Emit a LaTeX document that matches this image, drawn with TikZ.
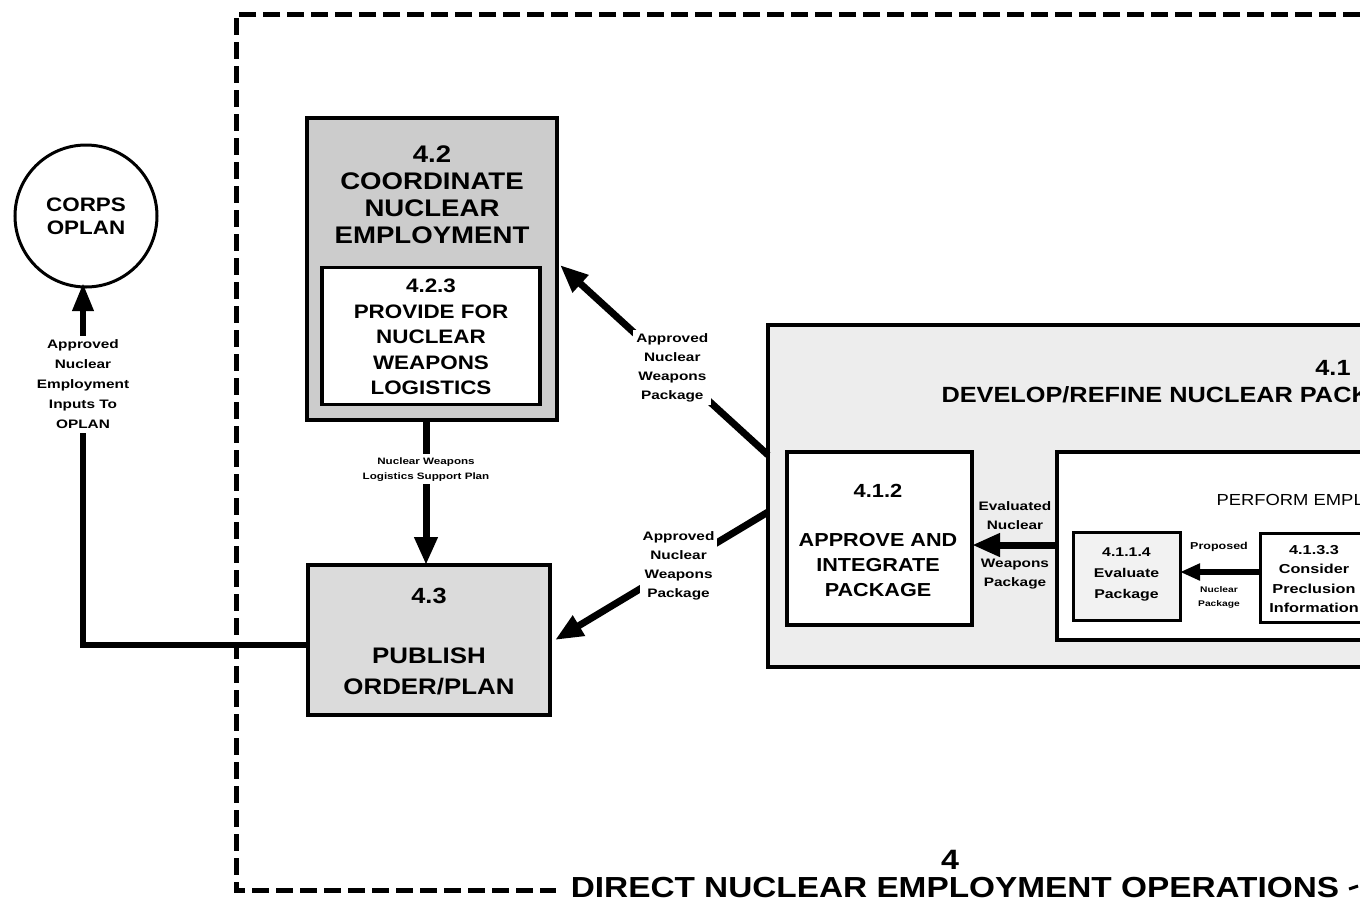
\documentclass[tikz,border=0pt]{standalone}
\usepackage{fontspec}
\setmainfont{Liberation Sans}
\newfontfamily\wf[FakeStretch=1.15]{Liberation Sans}
\newfontfamily\wl[FakeStretch=1.25]{Liberation Sans}
\usetikzlibrary{arrows.meta}
\begin{document}
\begin{tikzpicture}[x=1pt,y=-1pt,
  boxa/.style={draw, line width=3.5pt, rectangle, inner sep=0pt},
  flow/.style={line width=6.5pt},
  arr/.style={line width=7pt, -{Triangle[length=28pt,width=22pt]}},
  sarr/.style={line width=6pt, -{Triangle[length=20pt,width=16pt]}},
  lbl/.style={font=\wl\bfseries\fontsize{12.3}{19}\selectfont, align=center, inner sep=1pt},
  slbl/.style={font=\wl\bfseries\fontsize{9.3}{15}\selectfont, align=center, inner sep=1pt},
  big/.style={font=\wf\bfseries, align=center},
  frame/.style={line width=5pt, dash pattern=on 17pt off 7pt}
]
\useasboundingbox (0,0) rectangle (1360,919);
\fill[white] (0,0) rectangle (1360,919);

% outer dashed frame
\coordinate (fr1) at (1360,14);
\coordinate (fr2) at (236,14);
\coordinate (fr3) at (236,890);
\coordinate (fr4) at (556,890);
\draw[frame] (fr1) -- (fr2) -- (fr3) -- (fr4);
\coordinate (fr5) at (1349,889);
\coordinate (fr6) at (1358,886);
\draw[line width=3pt] (fr5) -- (fr6);

% title
\node[big, font=\wf\bfseries\fontsize{28}{30}\selectfont] (t4) at (950,860) {4};
\node[big, font=\wf\bfseries\fontsize{29}{30}\selectfont] (ttl) at (955,888) {DIRECT NUCLEAR EMPLOYMENT OPERATIONS};

% CORPS OPLAN
\node[draw, circle, line width=3pt, minimum size=142pt, inner sep=0pt,
  big, font=\wf\bfseries\fontsize{19.5}{23}\selectfont] (corps) at (86,216) {CORPS\\OPLAN};

% box 4.2
\node[boxa, fill=black!20, minimum width=250pt, minimum height=302pt] (b42) at (432,269) {};
\node[big, font=\wf\bfseries\fontsize{24}{27}\selectfont] (b42t) at (432,195)
  {4.2\\COORDINATE\\NUCLEAR\\EMPLOYMENT};
\node[boxa, fill=white, minimum width=218pt, minimum height=137pt] (b423) at (431,336) {};
\node[big, font=\wf\bfseries\fontsize{19.5}{25.5}\selectfont] (b423t) at (431,337)
  {4.2.3\\PROVIDE FOR\\NUCLEAR\\WEAPONS\\LOGISTICS};

% box 4.3
\node[boxa, fill=black!14, minimum width=242pt, minimum height=150pt] (b43) at (429,640) {};
\node[big, font=\wf\bfseries\fontsize{22}{25}\selectfont] (b43n) at (429,596) {4.3};
\node[big, font=\wf\bfseries\fontsize{22.5}{31}\selectfont] (b43t) at (429,671) {PUBLISH\\ORDER/PLAN};

% big box 4.1
\coordinate (b41a) at (768,325);
\coordinate (b41b) at (1380,667);
\draw[line width=3.5pt, fill=black!7] (b41a) rectangle (b41b);
\node[big, font=\wf\bfseries\fontsize{22}{26}\selectfont] (b41n) at (1333,368) {4.1};
\node[big, font=\wf\bfseries\fontsize{22}{26}\selectfont, anchor=west] (b41t) at (938,395) {DEVELOP/REFINE NUCLEAR PACKAGE};

% 4.1.2
\node[boxa, fill=white, minimum width=185pt, minimum height=173pt] (b412) at (879.5,538.5) {};
\node[big, font=\wf\bfseries\fontsize{19}{24}\selectfont] (b412n) at (878,491) {4.1.2};
\node[big, font=\wf\bfseries\fontsize{18.8}{25}\selectfont] (b412t) at (878,565) {APPROVE AND\\INTEGRATE\\PACKAGE};

% PERFORM box
\coordinate (pfa) at (1057,452);
\coordinate (pfb) at (1380,640);
\draw[line width=3.5pt, fill=white] (pfa) rectangle (pfb);
\node[font=\wf\fontsize{16}{20}\selectfont, anchor=west] (pft) at (1213,500) {PERFORM EMPLOYMENT};

% 4.1.1.4
\node[boxa, line width=3pt, fill=black!5, minimum width=107pt, minimum height=88pt] (b4114) at (1126.5,576) {};
\node[slbl, font=\wl\bfseries\fontsize{12.7}{21}\selectfont] (b4114t) at (1126.5,574) {4.1.1.4\\Evaluate\\Package};

% 4.1.3.3
\coordinate (c33a) at (1260,533);
\coordinate (c33b) at (1380,622);
\draw[line width=3pt, fill=white] (c33a) rectangle (c33b);
\node[slbl, font=\wl\bfseries\fontsize{13}{19.3}\selectfont] (c33t) at (1314,579) {4.1.3.3\\Consider\\Preclusion\\Information};

% arrows inside 4.1
\coordinate (pfw) at (1057,545);
\coordinate (b412e) at (972,545);
\draw[arr] (pfw) -- (b412e);
\node[lbl, anchor=south] (lev) at (1015,531) {Evaluated\\Nuclear};
\node[lbl, anchor=north] (lwp) at (1015,558) {Weapons\\Package};

\coordinate (c33w) at (1260,572);
\coordinate (b4114e) at (1180,572);
\draw[sarr] (c33w) -- (b4114e);
\node[slbl, font=\wl\bfseries\fontsize{10}{14}\selectfont, anchor=south] (lprop) at (1219,553) {Proposed};
\node[slbl, font=\wl\bfseries\fontsize{8.2}{14}\selectfont, anchor=north] (lnp) at (1219,585) {Nuclear\\Package};

% arrows to 4.2 / 4.3
\coordinate (u1) at (768,455);
\coordinate (u2) at (560,265);
\draw[arr] (u1) -- node[lbl, fill=white, pos=0.46, inner sep=3pt] (lup) {Approved\\Nuclear\\Weapons\\Package} (u2);

\coordinate (d1) at (768,512);
\coordinate (d2) at (555,640);
\draw[arr] (d1) -- node[lbl, fill=white, pos=0.42, inner sep=3pt] (ldn) {Approved\\Nuclear\\Weapons\\Package} (d2);

% 4.2 -> 4.3
\coordinate (v1) at (426,420);
\coordinate (v2) at (426,565);
\draw[arr] (v1) -- node[slbl, fill=white, pos=0.34, inner sep=3pt] (lnw) {Nuclear Weapons\\Logistics Support Plan} (v2);

% 4.3 -> CORPS OPLAN
\coordinate (p43) at (308,645);
\coordinate (cL) at (83,645);
\coordinate (cT) at (83,283);
\draw[flow, -{Triangle[length=28pt,width=20pt]}] (p43) -- (cL) -- node[lbl, fill=white, pos=0.72, inner sep=4pt, font=\wl\bfseries\fontsize{12.3}{20}\selectfont] (lcorps) {Approved\\Nuclear\\Employment\\Inputs To\\OPLAN} (cT);
\end{tikzpicture}
\end{document}
